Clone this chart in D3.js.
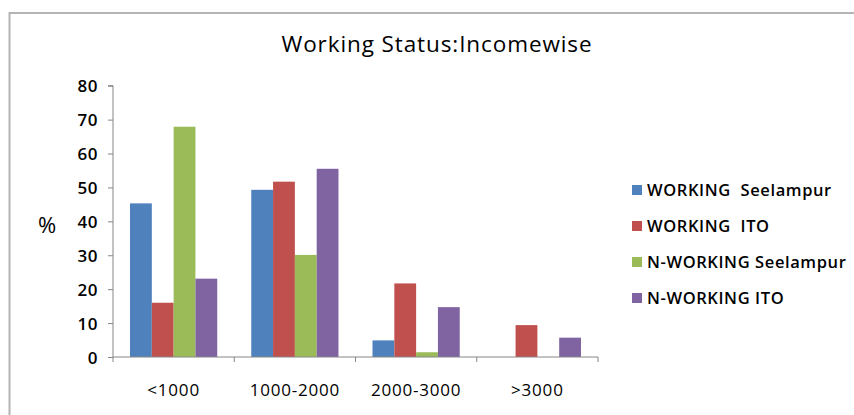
<!DOCTYPE html>
<html><head><meta charset="utf-8">
<script src="https://cdn.jsdelivr.net/npm/d3@7/dist/d3.min.js"></script>
<style>body{margin:0;background:#fff}svg{display:block}</style>
</head><body>
<svg id="c" width="854" height="415"></svg>
<script>
const categories = ["<1000", "1000-2000", "2000-3000", ">3000"];
const seriesNames = ["WORKING  Seelampur", "WORKING  ITO", "N-WORKING Seelampur", "N-WORKING ITO"];
const workingSeelampur = [45.3, 49.3, 4.9, 0];
const workingITO = [16.0, 51.7, 21.7, 9.4];
const nWorkingSeelampur = [67.9, 30.1, 1.4, 0];
const nWorkingITO = [23.1, 55.5, 14.7, 5.7];
const yTicks = [0, 10, 20, 30, 40, 50, 60, 70, 80];
const colors = ["#4F81BD", "#C0504D", "#9BBB59", "#8064A2"];
const series = [workingSeelampur, workingITO, nWorkingSeelampur, nWorkingITO];

const svg = d3.select("#c");
const font = "'Open Sans', 'Noto Sans', sans-serif";
const L = 113, R = 598, T = 85.7, B = 357;

// frame
svg.append("path").attr("d", `M9.5,415 V13 H854`).attr("fill", "none")
  .attr("stroke", "#b4b4b4").attr("stroke-width", 2);

svg.append("text").attr("x", 437).attr("y", 52).attr("text-anchor", "middle")
  .attr("font-family", font).attr("font-size", 22.5).attr("letter-spacing", 0.9).attr("fill", "#000")
  .text("Working Status:Incomewise");

const x = d3.scaleBand().domain(categories).range([L, R]);
const y = d3.scaleLinear().domain([0, 80]).range([B, T]);
const inner = d3.scaleBand().domain(d3.range(4)).range([0, x.bandwidth()]).paddingInner(0).paddingOuter(0.78);

const g = svg.append("g");
categories.forEach((c, ci) => {
  series.forEach((s, si) => {
    if (s[ci] <= 0) return;
    g.append("rect")
      .attr("x", x(c) + inner(si))
      .attr("width", inner.bandwidth())
      .attr("y", y(s[ci]))
      .attr("height", y(0) - y(s[ci]))
      .attr("fill", colors[si]);
  });
});

// y axis
const ya = svg.append("g").attr("transform", `translate(${L},0)`)
  .call(d3.axisLeft(y).tickValues(yTicks).tickSize(5).tickPadding(10));
ya.select(".domain").attr("stroke", "#868686").attr("d", `M-5,${T}H0V${B}`);
ya.selectAll(".tick line").attr("stroke", "#868686");
ya.selectAll("text").attr("font-family", font).attr("font-size", 17).attr("font-weight", 600).attr("letter-spacing", 0.5).attr("fill", "#000").attr("dy", "0.36em");

// x axis
const xa = svg.append("g").attr("transform", `translate(0,${B})`);
xa.append("line").attr("x1", L).attr("x2", R).attr("stroke", "#868686");
const bounds = categories.map(c => x(c)).concat([R]);
xa.selectAll("line.t").data(bounds).enter().append("line").attr("class", "t")
  .attr("x1", d => d).attr("x2", d => d).attr("y1", 0).attr("y2", 5).attr("stroke", "#868686");
xa.selectAll("text").data(categories).enter().append("text")
  .attr("x", d => x(d) + x.bandwidth() / 2).attr("y", 39)
  .attr("text-anchor", "middle").attr("font-family", font).attr("font-size", 17).attr("letter-spacing", 0.8)
  .attr("fill", "#000").text(d => d);

svg.append("text").attr("x", 47).attr("y", 233).attr("text-anchor", "middle")
  .attr("font-family", font).attr("font-size", 22).attr("fill", "#000").text("%");

// legend
const lg = svg.append("g");
seriesNames.forEach((n, i) => {
  const cy = 190 + i * 36;
  lg.append("rect").attr("x", 632).attr("y", cy - 5).attr("width", 10).attr("height", 10).attr("fill", colors[i]);
  lg.append("text").attr("x", 647).attr("y", cy).attr("dy", "0.36em")
    .attr("font-family", font).attr("font-size", 16.5).attr("font-weight", 600).attr("letter-spacing", 0.6)
    .attr("fill", "#000").attr("xml:space", "preserve").style("white-space", "pre").text(n);
});
</script>
</body></html>
